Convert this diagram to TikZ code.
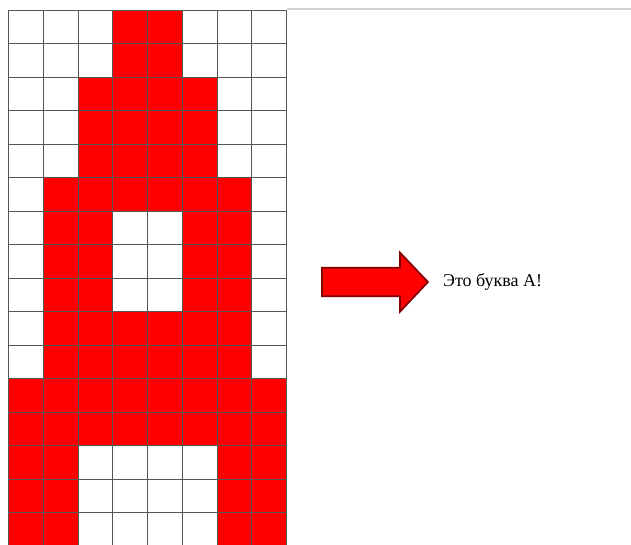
\documentclass[tikz,border=0pt]{standalone}
\usepackage{fontspec}
\setmainfont{Liberation Serif}
\usepackage{tikz}
\usetikzlibrary{arrows.meta,positioning,calc}
\definecolor{PixRed}{RGB}{255,0,0}
\definecolor{ArrEdge}{RGB}{130,0,0}
\definecolor{GridC}{RGB}{85,85,85}
\newcommand{\cw}{34.75}
\newcommand{\ch}{33.5}
\tikzset{
  pix/.style={fill=PixRed,draw=none},
  gridline/.style={GridC,line width=1pt},
  rule/.style={black!18,line width=1.6pt},
  blockarrow/.style={fill=PixRed,draw=ArrEdge,line width=1.7pt,line join=miter},
  msg/.style={font=\fontsize{18}{21}\selectfont,text=black,inner sep=0pt,anchor=west},
}

\begin{document}
\begin{tikzpicture}[x=1pt,y=-1pt]
  \useasboundingbox (0,0) rectangle (631,544);
  \fill[white] (0,0) rectangle (631,544);

  % letter A, one row at a time
  \begin{scope}
    \clip (0,0) rectangle (631,544);
    \foreach \r/\cs in {0/{3,4},1/{3,4},2/{2,3,4,5},3/{2,3,4,5},4/{2,3,4,5},
                        5/{1,2,3,4,5,6},6/{1,2,5,6},7/{1,2,5,6},8/{1,2,5,6},
                        9/{1,2,3,4,5,6},10/{1,2,3,4,5,6},
                        11/{0,1,2,3,4,5,6,7},12/{0,1,2,3,4,5,6,7},
                        13/{0,1,6,7},14/{0,1,6,7},15/{0,1,6,7}}
      \foreach \c in \cs
        \fill[pix] ({8.5+\c*\cw},{10+\r*\ch}) rectangle ++(\cw,\ch);
    \foreach \c in {0,...,8}
      \draw[gridline] ({8.5+\c*\cw},10) -- ({8.5+\c*\cw},560);
    \foreach \r in {0,...,16}
      \draw[gridline] (8.5,{10+\r*\ch}) -- (286.5,{10+\r*\ch});
  \end{scope}
  \draw[rule] (286.5,9) -- (631,9);

  % arrow and answer
  \coordinate (tail) at (322,282);
  \coordinate (tip) at (428,282);
  \draw[blockarrow] ($(tail)+(0,-14.2)$) -- ++(78,0) -- ++(0,-15.2)
    -- (tip) -- ($(tail)+(78,29.7)$) -- ++(0,-15.5) -- ($(tail)+(0,14.2)$) -- cycle;
  \node[msg,right=15pt of tip] (msg) {Это буква А!};
\end{tikzpicture}
\end{document}
